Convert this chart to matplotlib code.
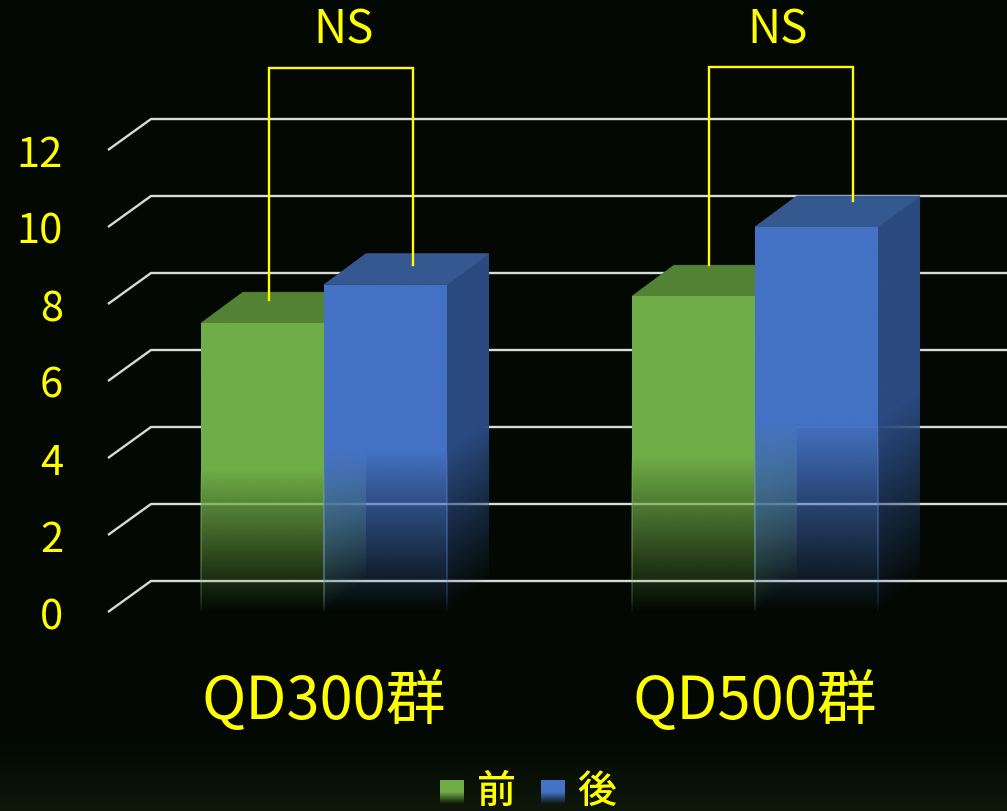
import numpy as np
import matplotlib
matplotlib.use("Agg")
import matplotlib.pyplot as plt
from matplotlib.patches import Polygon
from matplotlib.colors import to_rgb
from matplotlib.transforms import ScaledTranslation

# --- Data ---
groups = ["QD300群", "QD500群"]
series = ["前", "後"]
before = [7.5, 8.2]
after = [8.5, 10.0]
yticks = [0, 2, 4, 6, 8, 10, 12]

# --- Style ---
W, H = 1007, 811
YELLOW = "#ffff00"
CJK = ["Noto Sans CJK JP", "DejaVu Sans"]
plt.rcParams["font.family"] = CJK

GREEN = {"front": "#70ad47", "top": "#548235", "side": "#4a7530", "edge": "#8cc465"}
BLUE = {"front": "#4472c4", "top": "#34588f", "side": "#2a4a80", "edge": "#5f8ad6"}

bar_w = 0.2854      # one bar, in group units
depth_x = 0.0975    # 3d offset of the back plane
depth_y = 0.805
fade_frac = 0.49    # share of the bar height that fades out


def fade_rgba(color, alpha):
    rgba = np.zeros(alpha.shape + (4,))
    rgba[..., :3] = to_rgb(color)
    rgba[..., 3] = alpha
    return rgba


def draw_face(ax, corners, color, h, x0, shear=False, edge=False, z=2):
    # gradient image clipped to a polygon, alpha runs out towards the floor
    xs = [c[0] for c in corners]
    ys = [c[1] for c in corners]
    ext = (min(xs), max(xs), min(ys), max(ys))
    xx, yy = np.meshgrid(np.linspace(ext[0], ext[1], 120), np.linspace(ext[2], ext[3], 500))
    floor = (xx - x0) / depth_x * depth_y if shear else 0.0
    alpha = np.clip((yy - floor) / (fade_frac * h), 0, 1)
    if edge:
        # strongest halfway down, gone at both ends of the fade
        alpha = np.clip(0.8 * alpha ** 0.6 * (1 - alpha) ** 0.5, 0, 1)
    im = ax.imshow(fade_rgba(color, alpha), extent=ext, origin="lower", aspect="auto",
                   interpolation="bilinear", zorder=z)
    im.set_clip_path(Polygon(corners, closed=True, transform=ax.transData))


def draw_bar(ax, left, h, pal, z):
    right = left + bar_w
    # side and top first, front face last
    side = [(right, 0), (right + depth_x, depth_y), (right + depth_x, h + depth_y), (right, h)]
    draw_face(ax, side, pal["side"], h, right, shear=True, z=z)
    top = [(left, h), (right, h), (right + depth_x, h + depth_y), (left + depth_x, h + depth_y)]
    ax.add_patch(Polygon(top, closed=True, fc=pal["top"], ec=pal["top"], lw=0.6, zorder=z))
    front = [(left, 0), (right, 0), (right, h), (left, h)]
    draw_face(ax, front, pal["front"], h, left, z=z + 0.1)
    # thin lighter edges stay visible inside the faded part
    e = 0.0035
    for ex in [left, right]:
        strip = [(ex - e / 2, 0), (ex + e / 2, 0), (ex + e / 2, h * fade_frac), (ex - e / 2, h * fade_frac)]
        draw_face(ax, strip, pal["edge"], h, ex, edge=True, z=z + 0.2)


fig = plt.figure(figsize=(W / 100, H / 100), dpi=100)

# background, very slightly green along the bottom
bg = fig.add_axes([0, 0, 1, 1], zorder=0)
bg.set_axis_off()
tone = np.zeros((H, 1, 3))
base = np.array([3, 8, 3]) / 255
low = np.array([14, 24, 10]) / 255
ramp = np.clip((np.arange(H) - 740) / (H - 740), 0, 1)[:, None, None]
tone[:] = base + (low - base) * ramp
bg.imshow(tone, aspect="auto", extent=(0, W, H, 0))

# chart axes: x in groups, y in values
ax_left, ax_bottom = 70, 640
ax = fig.add_axes([ax_left / W, (H - ax_bottom) / H, (W - ax_left) / W, ax_bottom / H], zorder=1)
ax.patch.set_alpha(0)
px_x, px_y = 431.0, 38.5
x_min = (ax_left - 324) / px_x
x_max = (W - 324) / px_x
y_min = -(ax_bottom - 612) / px_y
y_max = 612 / px_y

# floor and back wall lines
stub_x = (108 - 324) / px_x
for v in yticks:
    ax.plot([stub_x, stub_x + 43 / px_x, x_max], [v, v + depth_y, v + depth_y],
            color="#d9d9d9", lw=1.7, zorder=1, solid_capstyle="butt")

for i in range(len(groups)):
    draw_bar(ax, i - bar_w * 1.0, before[i], GREEN, z=2 + i)
    draw_bar(ax, i, after[i], BLUE, z=2.5 + i)

ax.set_xlim(x_min, x_max)
ax.set_ylim(y_min, y_max)
ax.set_yticks(yticks)
ax.set_yticklabels([str(v) for v in yticks], color=YELLOW, fontsize=30)
ax.set_xticks([0, 1])
ax.set_xticklabels(groups, color=YELLOW, fontsize=43)
ax.tick_params(axis="y", length=0, pad=5)
ax.tick_params(axis="x", length=0, pad=23)
for lab in ax.get_yticklabels():
    lab.set_transform(lab.get_transform() + ScaledTranslation(0, -1 / 100, fig.dpi_scale_trans))
for s in ax.spines.values():
    s.set_visible(False)

# annotations on top, in figure pixels
top = fig.add_axes([0, 0, 1, 1], zorder=2)
top.set_axis_off()
top.patch.set_alpha(0)

brackets = [(269, 300, 68, 413, 265), (709, 265, 67, 853, 201)]
ns_x = [344, 778]
for (x0, y0, ym, x1, y1), nx in zip(brackets, ns_x):
    top.plot([x0, x0, x1, x1], [y0, ym, ym, y1], color=YELLOW, lw=1.7, solid_joinstyle="miter")
    top.text(nx, 30, "NS", color=YELLOW, fontsize=33, ha="center", va="center")

# legend with the same fade on its swatches
swatch_x = [440, 541]
label_x = [495, 597]
for sx, lx, name, pal in zip(swatch_x, label_x, series, [GREEN, BLUE]):
    alpha = np.clip(np.linspace(1, 0, 100) / 0.49, 0, 1)[:, None]
    top.imshow(fade_rgba(pal["front"], alpha), extent=(sx, sx + 24, 804, 780), aspect="auto",
               interpolation="bilinear")
    top.text(lx, 792, name, color=YELLOW, fontsize=28, fontweight="medium", ha="center", va="center")

top.set_xlim(0, W)
top.set_ylim(H, 0)

fig.savefig("out.png", dpi=100, facecolor="#030803")
